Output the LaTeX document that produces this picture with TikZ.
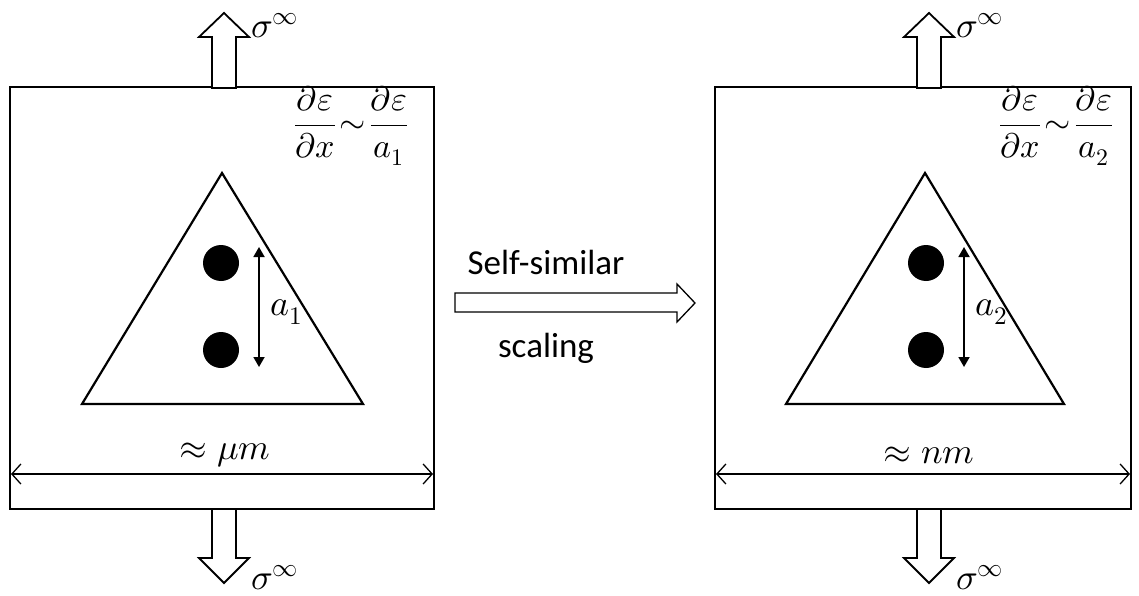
\documentclass[tikz,border=0pt]{standalone}
\usepackage{amsmath}
\usepackage{fontspec}
\usepackage{unicode-math}
\setmainfont{Carlito}
\setmathfont{Latin Modern Math}
\usetikzlibrary{arrows.meta}
\tikzset{
  boxline/.style={line width=2.6pt},
  triline/.style={line width=2.2pt, line join=miter},
  blockarrow/.style={line width=1.8pt, fill=white, line join=miter},
  dimline/.style={line width=1.3pt, {Straight Barb[length=9pt,width=20pt]}-{Straight Barb[length=9pt,width=20pt]}},
  gaparrow/.style={line width=1.8pt, {Triangle[length=10pt,width=11pt]}-{Triangle[length=10pt,width=11pt]}},
  dot/.style={circle, fill=black, minimum size=36pt, inner sep=0pt},
  mathlbl/.style={inner sep=0pt, font=\fontsize{36}{42}\selectfont},
  fraclbl/.style={inner sep=0pt, font=\fontsize{34}{40}\selectfont},
  txt/.style={inner sep=0pt, font=\fontsize{35}{42}\selectfont},
}
\begin{document}
\begin{tikzpicture}[x=1pt,y=-1pt]
\useasboundingbox (0,0) rectangle (1139,596);
% ---------- left panel ----------
\draw[boxline] (10,87) rectangle (434,509);
\coordinate (L1) at (11,474); \coordinate (R1) at (433,474);
\draw[dimline] (L1) -- (R1);
\node[mathlbl] (w1) at (225,455) {$\approx \mu m$};
% top block arrow
\draw[blockarrow] (212,88) -- (212,37) -- (199,37) -- (224,13) -- (249,37) -- (236,37) -- (236,88) -- cycle;
\node[mathlbl, anchor=west] (s1t) at (251,26) {$\sigma^{\infty}$};
% bottom block arrow
\draw[blockarrow] (212,509) -- (212,558) -- (199,558) -- (224,583) -- (249,558) -- (236,558) -- (236,509) -- cycle;
\node[mathlbl, anchor=west] (s1b) at (251,578) {$\sigma^{\infty}$};
% triangle
\draw[triline] (222,173) -- (363,404) -- (82,404) -- cycle;
\node[dot] (d1a) at (221,263) {};
\node[dot] (d1b) at (221,350) {};
\coordinate (g1t) at (259,247); \coordinate (g1b) at (259,367);
\draw[gaparrow] (g1t) -- (g1b);
\node[mathlbl] (a1) at (287,312) {$a_1$};
\node[fraclbl] (f1) at (351,126) {$\dfrac{\partial\varepsilon}{\partial x}\!\sim\!\dfrac{\partial\varepsilon}{a_1}$};
% ---------- middle arrow ----------
\draw[blockarrow, line width=1.3pt] (455,293) -- (677,293) -- (677,284) -- (695,303) -- (677,322) -- (677,312) -- (455,312) -- cycle;
\node[txt] (ss) at (546,262) {Self-similar};
\node[txt] (sc) at (546,348) {scaling};
% ---------- right panel ----------
\draw[boxline] (715,87) rectangle (1131,509);
\coordinate (L2) at (716,474); \coordinate (R2) at (1130,474);
\draw[dimline] (L2) -- (R2);
\node[mathlbl] (w2) at (929,455) {$\approx nm$};
\draw[blockarrow] (917,88) -- (917,37) -- (904,37) -- (929,13) -- (954,37) -- (941,37) -- (941,88) -- cycle;
\node[mathlbl, anchor=west] (s2t) at (956,26) {$\sigma^{\infty}$};
\draw[blockarrow] (917,509) -- (917,558) -- (904,558) -- (929,583) -- (954,558) -- (941,558) -- (941,509) -- cycle;
\node[mathlbl, anchor=west] (s2b) at (956,578) {$\sigma^{\infty}$};
\draw[triline] (925,173) -- (1064,404) -- (786,404) -- cycle;
\node[dot] (d2a) at (926,263) {};
\node[dot] (d2b) at (926,350) {};
\coordinate (g2t) at (964,247); \coordinate (g2b) at (964,367);
\draw[gaparrow] (g2t) -- (g2b);
\node[mathlbl] (a2) at (992,312) {$a_2$};
\node[fraclbl] (f2) at (1056,126) {$\dfrac{\partial\varepsilon}{\partial x}\!\sim\!\dfrac{\partial\varepsilon}{a_2}$};
\end{tikzpicture}
\end{document}
